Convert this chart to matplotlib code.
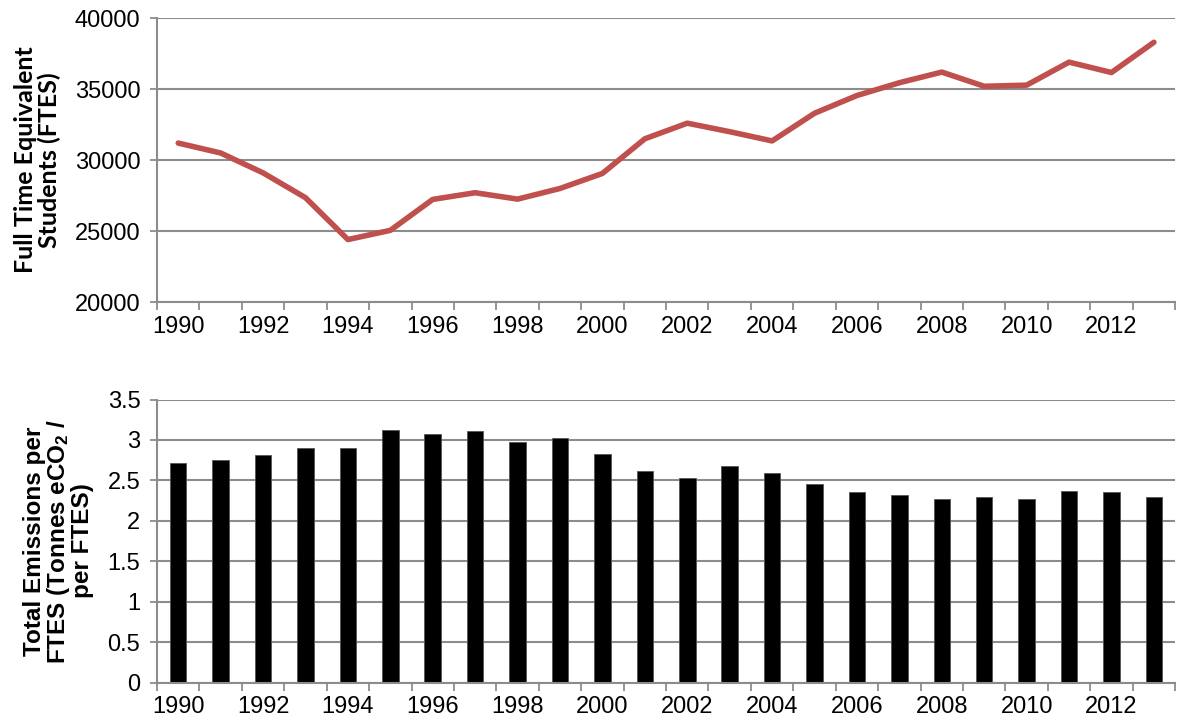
import numpy as np
import matplotlib
matplotlib.use("Agg")
import matplotlib.pyplot as plt
from matplotlib.ticker import FixedLocator

years = list(range(1990, 2014))
ftes = [31200, 30500, 29100, 27350, 24400, 25050, 27230, 27700, 27250, 28000,
        29060, 31500, 32600, 32000, 31350, 33300, 34550, 35450, 36200, 35200,
        35280, 36900, 36170, 38300]
emissions = [2.71, 2.75, 2.81, 2.90, 2.90, 3.12, 3.07, 3.11, 2.98, 3.02,
             2.83, 2.61, 2.53, 2.68, 2.59, 2.45, 2.36, 2.32, 2.27, 2.29,
             2.27, 2.37, 2.36, 2.30]
tick_labels = [str(y) for y in years[::2]]

plt.rcParams['font.family'] = ['Liberation Sans', 'DejaVu Sans']
grid_col = '#8c8c8c'
x = np.arange(len(years))

fig = plt.figure(figsize=(11.77, 7.26), dpi=100)
ax1 = fig.add_axes([0.1334, 0.584, 0.865, 0.391])
ax2 = fig.add_axes([0.1334, 0.0599, 0.865, 0.3898])


def style(ax):
    ax.set_xlim(-0.5, len(years) - 0.5)
    ax.set_xticks(x[::2])
    ax.set_xticklabels(tick_labels)
    ax.xaxis.set_minor_locator(FixedLocator(np.arange(-0.5, len(years), 1)))
    ax.tick_params(axis='x', which='major', length=0, labelsize=17, pad=10)
    ax.tick_params(axis='x', which='minor', length=6, width=1.3, color=grid_col)
    ax.tick_params(axis='y', length=5, width=1.3, color=grid_col, labelsize=17, pad=7)
    for s in ['top', 'right']:
        ax.spines[s].set_visible(False)
    for s in ['left', 'bottom']:
        ax.spines[s].set_color(grid_col)
        ax.spines[s].set_linewidth(1.5)
    ax.yaxis.grid(True, color=grid_col, linewidth=1.5)
    ax.set_axisbelow(True)


ax1.plot(x, ftes, color='#c0504d', linewidth=4, solid_capstyle='round', solid_joinstyle='round')
ax1.set_ylim(20000, 40000)
ax1.set_yticks(range(20000, 40001, 5000))
style(ax1)
ax1.set_ylabel('Full Time Equivalent\nStudents (FTES)', fontsize=18, fontweight='bold',
               family=['Lato', 'DejaVu Sans'], linespacing=1.0, labelpad=10)

ax2.bar(x, emissions, width=0.39, color='black', edgecolor='#555555', linewidth=0.6)
ax2.set_ylim(0, 3.5)
ax2.set_yticks(np.arange(0, 3.51, 0.5))
ax2.set_yticklabels(['0', '0.5', '1', '1.5', '2', '2.5', '3', '3.5'])
style(ax2)
ax2.set_ylabel('Total Emissions per\nFTES (Tonnes eCO$\\mathregular{_2}$ /\nper FTES)',
               fontsize=17.5, fontweight='bold', linespacing=0.95, labelpad=10)

fig.savefig('out.png', dpi=100)
